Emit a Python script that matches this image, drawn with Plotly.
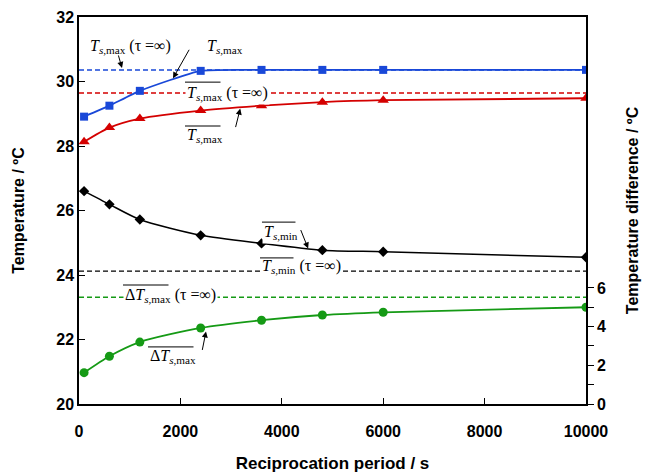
import plotly.graph_objects as go

period = [100, 600, 1200, 2400, 3600, 4800, 6000, 10000]
ts_max = [28.91, 29.25, 29.71, 30.33, 30.36, 30.36, 30.36, 30.36]
ts_max_mean = [28.13, 28.57, 28.85, 29.10, 29.25, 29.36, 29.42, 29.48]
ts_min_mean = [26.60, 26.19, 25.72, 25.23, 24.98, 24.77, 24.72, 24.55]
dts_max_mean = [1.62, 2.47, 3.20, 3.93, 4.33, 4.60, 4.74, 5.00]

x_limits = [0, 10000]
ts_max_inf = 30.36
ts_max_mean_inf = 29.64
ts_min_mean_inf = 24.12
dts_max_mean_inf = 5.52

left_ticks = [20, 22, 24, 26, 28, 30, 32]
right_ticks = [0, 1, 2, 3, 4, 5, 6]
right_ticktext = ["0", "", "2", "", "4", "", "6"]
x_ticks = [0, 2000, 4000, 6000, 8000, 10000]
x_ticktext = ["0", "2000", "4000", "6000", "8000", "10000"]

BLUE = "#1948d8"
RED = "#d40000"
BLACK = "#000000"
GREEN = "#159a15"
DASH = "5px,3px"

fig = go.Figure()

# dashed asymptotes
fig.add_trace(go.Scatter(x=x_limits, y=[ts_max_inf] * 2, mode="lines",
                         line=dict(color=BLUE, width=1.5, dash=DASH), showlegend=False))
fig.add_trace(go.Scatter(x=x_limits, y=[ts_max_mean_inf] * 2, mode="lines",
                         line=dict(color=RED, width=1.5, dash=DASH), showlegend=False))
fig.add_trace(go.Scatter(x=x_limits, y=[ts_min_mean_inf] * 2, mode="lines",
                         line=dict(color=BLACK, width=1.2, dash=DASH), showlegend=False))
fig.add_trace(go.Scatter(x=x_limits, y=[dts_max_mean_inf] * 2, mode="lines", yaxis="y2",
                         line=dict(color=GREEN, width=1.5, dash=DASH), showlegend=False))

# data series
fig.add_trace(go.Scatter(x=period, y=ts_max, mode="lines+markers",
                         line=dict(color=BLUE, width=1.8, shape="spline", smoothing=0.5),
                         marker=dict(symbol="square", size=8, color=BLUE), showlegend=False))
fig.add_trace(go.Scatter(x=period, y=ts_max_mean, mode="lines+markers",
                         line=dict(color=RED, width=1.8, shape="spline", smoothing=0.7),
                         marker=dict(symbol="triangle-up", size=10, color=RED), showlegend=False))
fig.add_trace(go.Scatter(x=period, y=ts_min_mean, mode="lines+markers",
                         line=dict(color=BLACK, width=1.5, shape="spline", smoothing=0.7),
                         marker=dict(symbol="diamond", size=8, color=BLACK), showlegend=False))
fig.add_trace(go.Scatter(x=period, y=dts_max_mean, mode="lines+markers", yaxis="y2",
                         line=dict(color=GREEN, width=1.8, shape="spline", smoothing=0.7),
                         marker=dict(symbol="circle", size=9, color=GREEN), showlegend=False))

SERIF = "Liberation Serif, Times New Roman, serif"
TSMAX = "<i>T</i><sub><i>s</i>,max</sub>"
TSMIN = "<i>T</i><sub><i>s</i>,min</sub>"
DTSMAX = "Δ<i>T</i><sub><i>s</i>,max</sub>"
INF = " (τ =∞)"

# (left x, centre y, text, overline y or None, overline width px)
labels = [
    (178, 31.07, TSMAX + INF, None, 0),
    (2485, 31.10, TSMAX, None, 0),
    (2091, 29.64, TSMAX + INF, 29.98, 37),
    (2091, 28.34, TSMAX, 28.62, 37),
    (3609, 25.33, TSMIN, 25.64, 35),
    (3570, 24.25, TSMIN + INF, 24.53, 35),
    (868, 23.38, DTSMAX + INF, 23.69, 47),
    (1361, 21.46, DTSMAX, 21.77, 47),
]
for lx, ly, txt, oy, ow in labels:
    fig.add_annotation(x=lx, y=ly, xref="x", yref="y", text=txt, showarrow=False,
                       xanchor="left", yanchor="middle", bgcolor="white", borderpad=1,
                       font=dict(family=SERIF, size=16, color="black"))
for lx, ly, txt, oy, ow in labels:
    if oy is not None:
        fig.add_annotation(x=lx, y=oy, xref="x", yref="y", text="", showarrow=True,
                           ax=ow, ay=0, arrowhead=0, arrowwidth=1, arrowcolor="black",
                           standoff=0, startstandoff=0)

arrows = [
    (848, 30.42, -4, -14),
    (1854, 30.10, 17, -30),
    (3180, 29.16, -5, 20),
    (4520, 24.82, -8, -20),
    (2505, 22.25, -4, 20),
]
for hx, hy, ax, ay in arrows:
    fig.add_annotation(x=hx, y=hy, xref="x", yref="y", text="", showarrow=True,
                       ax=ax, ay=ay, arrowhead=2, arrowsize=1.2, arrowwidth=1,
                       arrowcolor="black")

SANS = "Liberation Sans, Arial, sans-serif"
fig.update_layout(
    width=647, height=473,
    margin=dict(l=79, r=61, t=17, b=69),
    plot_bgcolor="white", paper_bgcolor="white",
    xaxis=dict(range=x_limits, tickvals=x_ticks, ticktext=x_ticktext, ticks="inside",
               ticklen=6, tickcolor="black", showline=True, linecolor="black",
               linewidth=1.5, mirror=True, showgrid=False, zeroline=False, automargin=False,
               ticklabelstandoff=12,
               tickfont=dict(family=SANS, size=16, color="black", weight="bold"),
               title=dict(text="Reciprocation period / s", standoff=18,
                          font=dict(family=SANS, size=17, color="black", weight="bold"))),
    yaxis=dict(range=[20, 32], tickvals=left_ticks, ticks="inside", ticklen=6,
               tickcolor="black", showline=True, linecolor="black", linewidth=1.5,
               showgrid=False, zeroline=False, automargin=False,
               tickfont=dict(family=SANS, size=16, color="black", weight="bold"),
               title=dict(text="Temperature / ºC", standoff=28,
                          font=dict(family=SANS, size=16, color="black", weight="bold"))),
    yaxis2=dict(range=[0, 20], overlaying="y", side="right", tickvals=right_ticks,
                ticktext=right_ticktext, ticks="outside", ticklen=6, tickcolor="black",
                showline=True, linecolor="black", linewidth=1.5, showgrid=False,
                zeroline=False, automargin=False,
                tickfont=dict(family=SANS, size=16, color="black", weight="bold"),
                title=dict(text="Temperature difference / ºC", standoff=22,
                           font=dict(family=SANS, size=16, color="black", weight="bold"))),
)

fig.write_html("out.html", config={"displayModeBar": False},
               post_script="document.body.style.margin='0';")
